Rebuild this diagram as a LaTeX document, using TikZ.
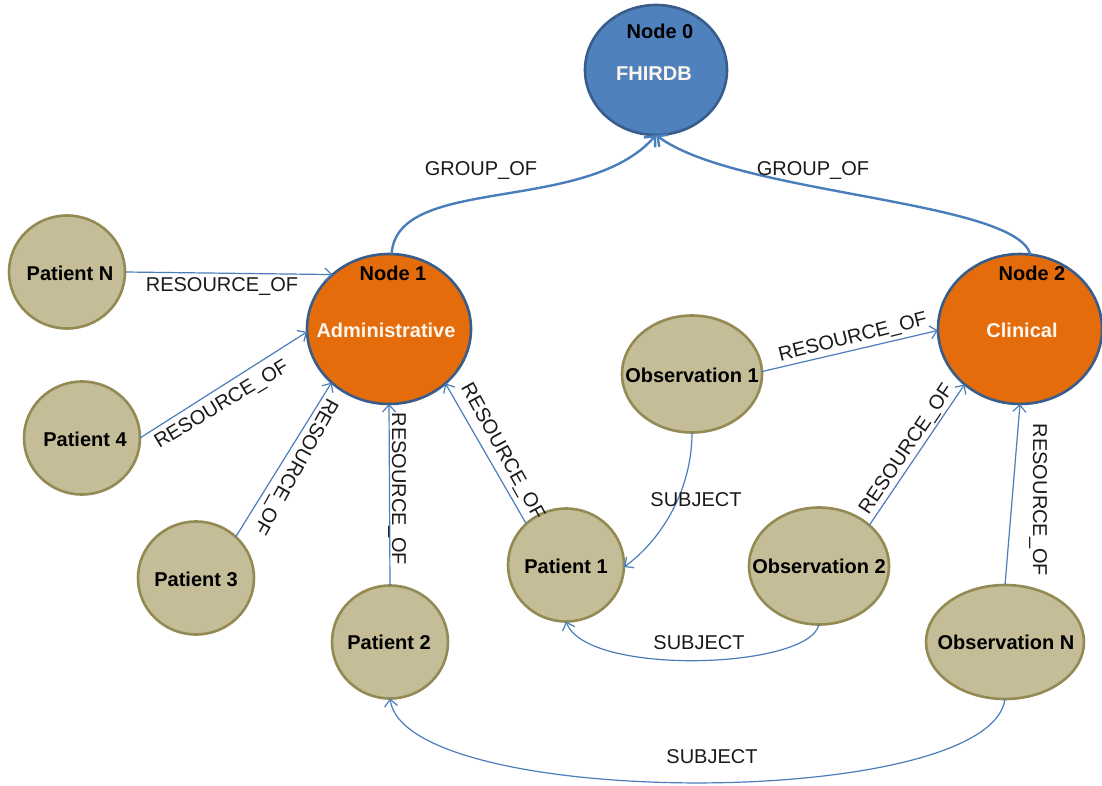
\documentclass[tikz,border=0pt]{standalone}
\usepackage{fontspec}
\setmainfont{Liberation Sans}
\usetikzlibrary{arrows.meta,shapes.geometric}

\definecolor{edgeblue}{HTML}{4A7EBB}
\definecolor{rimblue}{HTML}{385D8A}
\definecolor{rootfill}{HTML}{4F81BD}
\definecolor{hubfill}{HTML}{E46C0A}
\definecolor{leaffill}{HTML}{C4BD97}
\definecolor{leafrim}{HTML}{948A54}
\definecolor{inktext}{HTML}{1A1A1A}
\definecolor{softwhite}{HTML}{FDF6EE}

\begin{document}
\begin{tikzpicture}[x=1pt,y=-1pt,
  every node/.style={font=\fontsize{20}{22}\selectfont},
  ell/.style={ellipse, inner sep=0pt, outer sep=0pt},
  rootnode/.style={ell, draw=rimblue, line width=2.6pt, fill=rootfill,
    minimum width=142pt, minimum height=130pt},
  hubnode/.style={ell, draw=rimblue, line width=2.6pt, fill=hubfill,
    minimum width=164pt, minimum height=150pt},
  patnode/.style={ell, draw=leafrim, line width=2.6pt, fill=leaffill,
    minimum width=116pt, minimum height=113pt},
  obsnode/.style={ell, draw=leafrim, line width=2.6pt, fill=leaffill,
    minimum width=140pt, minimum height=117pt},
  obsNnode/.style={obsnode, minimum width=158pt, minimum height=114pt},
  nodetxt/.style={font=\bfseries\fontsize{20}{22}\selectfont, text=black, inner sep=0pt},
  hubtxt/.style={font=\bfseries\fontsize{20}{22}\selectfont, text=softwhite, inner sep=0pt},
  lab/.style={text=inktext, inner sep=0pt},
  rel/.style={draw=edgeblue, line width=1.2pt,
    -{Straight Barb[length=7pt,width=13pt]}},
  grp/.style={draw=edgeblue, line width=2.4pt,
    -{Straight Barb[length=8pt,width=15pt]}}
]
\useasboundingbox (0,0) rectangle (1102,786);
\fill[white] (0,0) rectangle (1102,786);

% database root and the two group hubs
\node[rootnode] (n0) at (656,70) {};
\node[nodetxt] (n0cap) at (660,31) {Node 0};
\node[hubtxt] (n0txt) at (654,74) {FHIRDB};

\node[hubnode] (n1) at (389,329) {};
\node[nodetxt] (n1cap) at (393,273) {Node 1};
\node[hubtxt] (n1txt) at (386,330) {Administrative};

\node[hubnode] (n2) at (1020,329) {};
\node[nodetxt] (n2cap) at (1032,273) {Node 2};
\node[hubtxt] (n2txt) at (1022,330) {Clinical};

% patients
\node[patnode] (pN) at (67,272) {};
\node[nodetxt] (pNtxt) at (70,273) {Patient N};
\node[patnode] (p4) at (82,438) {};
\node[nodetxt] (p4txt) at (85,439) {Patient 4};
\node[patnode] (p3) at (196,578) {};
\node[nodetxt] (p3txt) at (196,579) {Patient 3};
\node[patnode] (p2) at (390,642) {};
\node[nodetxt] (p2txt) at (389,642) {Patient 2};
\node[patnode] (p1) at (566,565) {};
\node[nodetxt] (p1txt) at (566,566) {Patient 1};

% observations
\node[obsnode] (o1) at (692,374) {};
\node[nodetxt] (o1txt) at (692,375) {Observation 1};
\node[obsnode] (o2) at (819,566) {};
\node[nodetxt] (o2txt) at (819,566) {Observation 2};
\node[obsNnode] (oN) at (1005,642) {};
\node[nodetxt] (oNtxt) at (1006,642) {Observation N};

% group membership
\draw[grp] (n1.88) .. controls +(5,-80) and +(-70,80) .. (n0.-90);
\draw[grp] (n2.82) .. controls +(-15,-55) and +(80,60) .. (n0.-90);
\node[lab] (g1) at (481,171) {GROUP\_OF};
\node[lab] (g2) at (813,171) {GROUP\_OF};

% resources of the administrative group
\draw[rel] (pN.0) -- (n1.136);
\draw[rel] (p4.0) -- (n1.182);
\draw[rel] (p3.46) -- (n1.223);
\draw[rel] (p2.90) -- (n1.-90);
\draw[rel] (p1.134) -- (n1.-44);
\node[lab] (lN) at (222,287) {RESOURCE\_OF};
\node[lab, rotate=31] (l4) at (222,405) {RESOURCE\_OF};
\node[lab, rotate=-119] (l3) at (295,466) {RESOURCE\_OF};
\node[lab, rotate=-90] (l2) at (397,489) {RESOURCE\_OF};
\node[lab, rotate=-61] (l1) at (502,452) {RESOURCE\_OF};

% resources of the clinical group
\draw[rel] (o1.2) -- (n2.181);
\draw[rel] (o2.39) -- (n2.225);
\draw[rel] (oN.90) -- (n2.-90);
\node[lab, rotate=14] (lo1) at (853,338) {RESOURCE\_OF};
\node[lab, rotate=56] (lo2) at (907,450) {RESOURCE\_OF};
\node[lab, rotate=-90] (loN) at (1038,500) {RESOURCE\_OF};

% subject links from observations to patients
\draw[rel] (o1.-90) .. controls +(0,60) and +(35,-25) .. (p1.-2);
\draw[rel] (o2.-90) .. controls +(-10,45) and +(20,55) .. (p1.-90);
\draw[rel] (oN.-90) .. controls +(-15,112) and +(15,112) .. (p2.-90);
\node[lab] (s1) at (696,500) {SUBJECT};
\node[lab] (s2) at (699,643) {SUBJECT};
\node[lab] (s3) at (712,757) {SUBJECT};
\end{tikzpicture}
\end{document}
